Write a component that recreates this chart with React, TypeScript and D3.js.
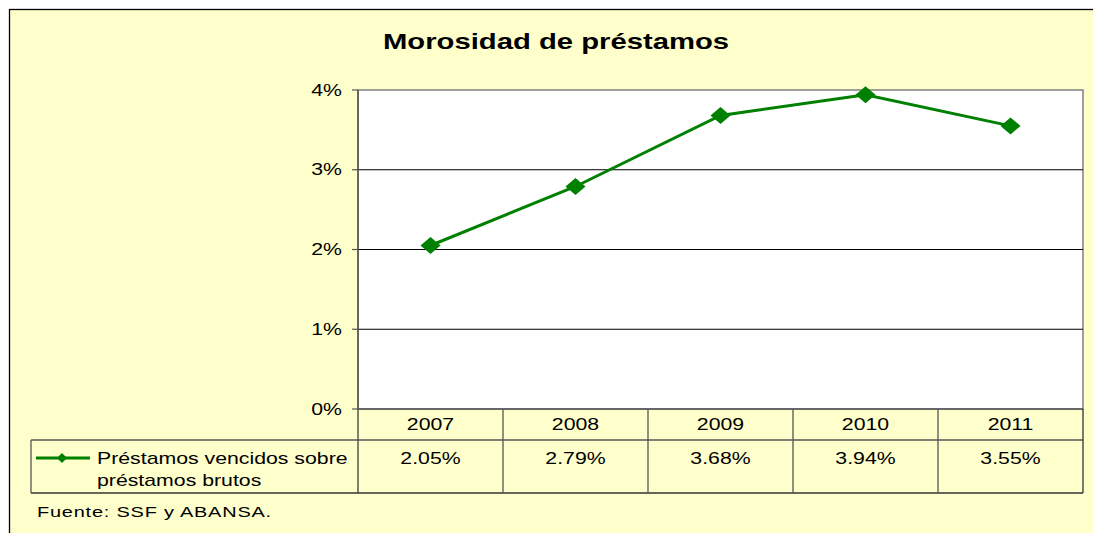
import React from "react";
import * as d3 from "d3";

const years = ["2007", "2008", "2009", "2010", "2011"];
const values = [2.05, 2.79, 3.68, 3.94, 3.55];
const valueLabels = ["2.05%", "2.79%", "3.68%", "3.94%", "3.55%"];
const yTicks = [0, 1, 2, 3, 4];
const title = "Morosidad de préstamos";
const seriesName = ["Préstamos vencidos sobre", "préstamos brutos"];
const source = "Fuente: SSF y ABANSA.";

const W = 1093, H = 533;
const plotL = 358, plotR = 1083, plotT = 90, plotB = 409;
const rowMid = 440, rowBot = 493, legendL = 31;
const font = "'Liberation Sans', Arial, sans-serif";
const green = "#008000";
const SX = 1.33;

function T(props: {
  x: number; y: number; size: number; anchor?: "start" | "middle" | "end";
  bold?: boolean; ls?: number; children: React.ReactNode;
}) {
  return (
    <text
      transform={`translate(${props.x},${props.y}) scale(${SX},1)`}
      textAnchor={props.anchor || "start"}
      fontFamily={font}
      fontSize={props.size}
      fontWeight={props.bold ? "bold" : "normal"}
      letterSpacing={props.ls || 0}
      fill="#000"
    >
      {props.children}
    </text>
  );
}

export default function App() {
  const x = d3.scaleBand<string>().domain(years).range([plotL, plotR]);
  const y = d3.scaleLinear().domain([0, 4]).range([plotB, plotT]);
  const cx = (i: number) => (x(years[i]) as number) + x.bandwidth() / 2;
  const line = d3
    .line<number>()
    .x((_, i) => cx(i))
    .y((d) => y(d));
  const diamond = (px: number, py: number) =>
    `M${px},${py - 8.5}L${px + 10},${py}L${px},${py + 8.5}L${px - 10},${py}Z`;

  return (
    <svg width={W} height={H} style={{ position: "absolute", left: 0, top: 0 }}>
      <rect x={0} y={0} width={W} height={H} fill="#fff" />
      <rect x={9.5} y={9.5} width={W + 10} height={H + 10} fill="#FFFFCC" stroke="#000" strokeWidth={1.3} />
      <T x={556} y={49} size={22} anchor="middle" bold>{title}</T>
      {/* plot area */}
      <rect x={plotL} y={plotT} width={plotR - plotL} height={plotB - plotT} fill="#fff" stroke="#808080" strokeWidth={1.5} />
      {yTicks.filter((t) => t > 0 && t < 4).map((t) => (
        <line key={t} x1={plotL} x2={plotR} y1={y(t)} y2={y(t)} stroke="#000" strokeWidth={1} />
      ))}
      {/* y axis */}
      <line x1={plotL} x2={plotL} y1={plotT} y2={rowBot} stroke="#555" strokeWidth={1.5} />
      {yTicks.map((t) => (
        <g key={t}>
          <line x1={plotL - 6} x2={plotL} y1={y(t)} y2={y(t)} stroke="#555" strokeWidth={1.2} />
          <T x={342} y={y(t) + 5.5} size={16} anchor="end">{`${t}%`}</T>
        </g>
      ))}
      {/* table */}
      <line x1={plotL} x2={plotR} y1={plotB} y2={plotB} stroke="#555" strokeWidth={1.3} />
      <line x1={legendL} x2={plotR} y1={rowMid} y2={rowMid} stroke="#555" strokeWidth={1.3} />
      <line x1={legendL} x2={plotR} y1={rowBot} y2={rowBot} stroke="#333" strokeWidth={1.5} />
      <line x1={legendL} x2={legendL} y1={rowMid} y2={rowBot} stroke="#555" strokeWidth={1.3} />
      {years.map((yr, i) => {
        const x0 = x(yr) as number;
        return (
          <g key={yr}>
            <line x1={x0 + x.bandwidth()} x2={x0 + x.bandwidth()} y1={plotB} y2={rowBot} stroke={i === years.length - 1 ? "#333" : "#555"} strokeWidth={1.3} />
            <T x={cx(i)} y={430} size={16} anchor="middle">{yr}</T>
            <T x={cx(i)} y={464} size={16} anchor="middle">{valueLabels[i]}</T>
          </g>
        );
      })}
      {/* legend */}
      <line x1={36} x2={90} y1={458} y2={458} stroke={green} strokeWidth={3} />
      <path d={`M62,453L67,458L62,463L57,458Z`} fill={green} />
      <T x={97} y={464} size={16}>{seriesName[0]}</T>
      <T x={97} y={486} size={16}>{seriesName[1]}</T>
      {/* series */}
      <path d={line(values) || ""} fill="none" stroke={green} strokeWidth={3} />
      {values.map((v, i) => (
        <path key={i} d={diamond(cx(i), y(v))} fill={green} />
      ))}
      <T x={37} y={517} size={15} ls={0.6}>{source}</T>
    </svg>
  );
}
